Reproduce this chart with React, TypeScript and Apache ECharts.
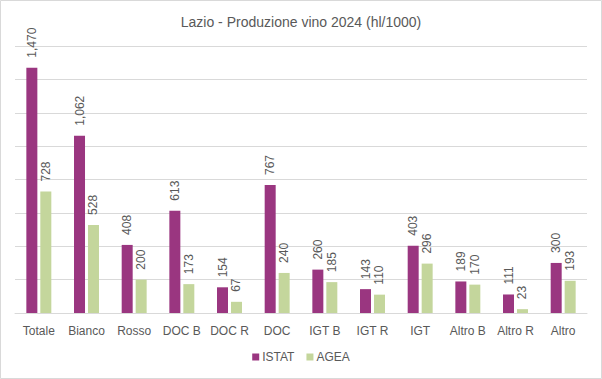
import React, { useEffect, useRef } from "react";
import * as echarts from "echarts";

const categories = ["Totale", "Bianco", "Rosso", "DOC B", "DOC R", "DOC", "IGT B", "IGT R", "IGT", "Altro B", "Altro R", "Altro"];
const istat = [1470, 1062, 408, 613, 154, 767, 260, 143, 403, 189, 111, 300];
const agea = [728, 528, 200, 173, 67, 240, 185, 110, 296, 170, 23, 193];

export default function App() {
  const ref = useRef<HTMLDivElement>(null);
  useEffect(() => {
    document.body.style.margin = "0";
    const chart = echarts.init(ref.current!, null, { renderer: "svg" });
    const label = {
      show: true,
      position: "top" as const,
      rotate: 90,
      align: "left" as const,
      verticalAlign: "middle" as const,
      distance: 10,
      color: "#595959",
      fontSize: 12,
      fontFamily: "Liberation Sans, Arial, sans-serif",
      formatter: (p: any) => p.value.toLocaleString("en-US"),
    };
    chart.setOption({
      animation: false,
      backgroundColor: "#fff",
      title: {
        text: "Lazio - Produzione vino 2024 (hl/1000)",
        left: "center",
        top: 10,
        textStyle: { color: "#595959", fontSize: 14, fontWeight: "normal", fontFamily: "Liberation Sans Narrow, Arial Narrow, sans-serif" },
      },
      legend: {
        data: ["ISTAT", "AGEA"],
        bottom: 11,
        left: "center",
        icon: "rect",
        itemWidth: 7,
        itemHeight: 7,
        itemGap: 12,
        textStyle: { color: "#595959", fontSize: 12, fontFamily: "Liberation Sans, Arial, sans-serif", padding: [0, 0, 0, -2] },
      },
      grid: { left: 15, right: 15, top: 46, bottom: 66, containLabel: false },
      xAxis: {
        type: "category",
        data: categories,
        axisLine: { lineStyle: { color: "#d9d9d9" } },
        axisTick: { show: false },
        axisLabel: { color: "#595959", fontSize: 12, margin: 12, fontFamily: "Liberation Sans, Arial, sans-serif", interval: 0 },
      },
      yAxis: {
        type: "value",
        min: 0,
        max: 1600,
        interval: 200,
        axisLabel: { show: false },
        axisLine: { show: false },
        axisTick: { show: false },
        splitLine: { lineStyle: { color: "#d9d9d9" } },
      },
      series: [
        { name: "ISTAT", type: "bar", data: istat, barWidth: 11, barGap: "27%", itemStyle: { color: "#9A3680" }, label },
        { name: "AGEA", type: "bar", data: agea, barWidth: 11, itemStyle: { color: "#C4D69C" }, label },
      ],
      graphic: [
        { type: "rect", shape: { x: 0.5, y: 0.5, width: 601, height: 378 }, style: { fill: "none", stroke: "#d9d9d9", lineWidth: 1 } },
      ],
    });
    return () => chart.dispose();
  }, []);
  return <div ref={ref} style={{ width: 602, height: 379 }} />;
}
